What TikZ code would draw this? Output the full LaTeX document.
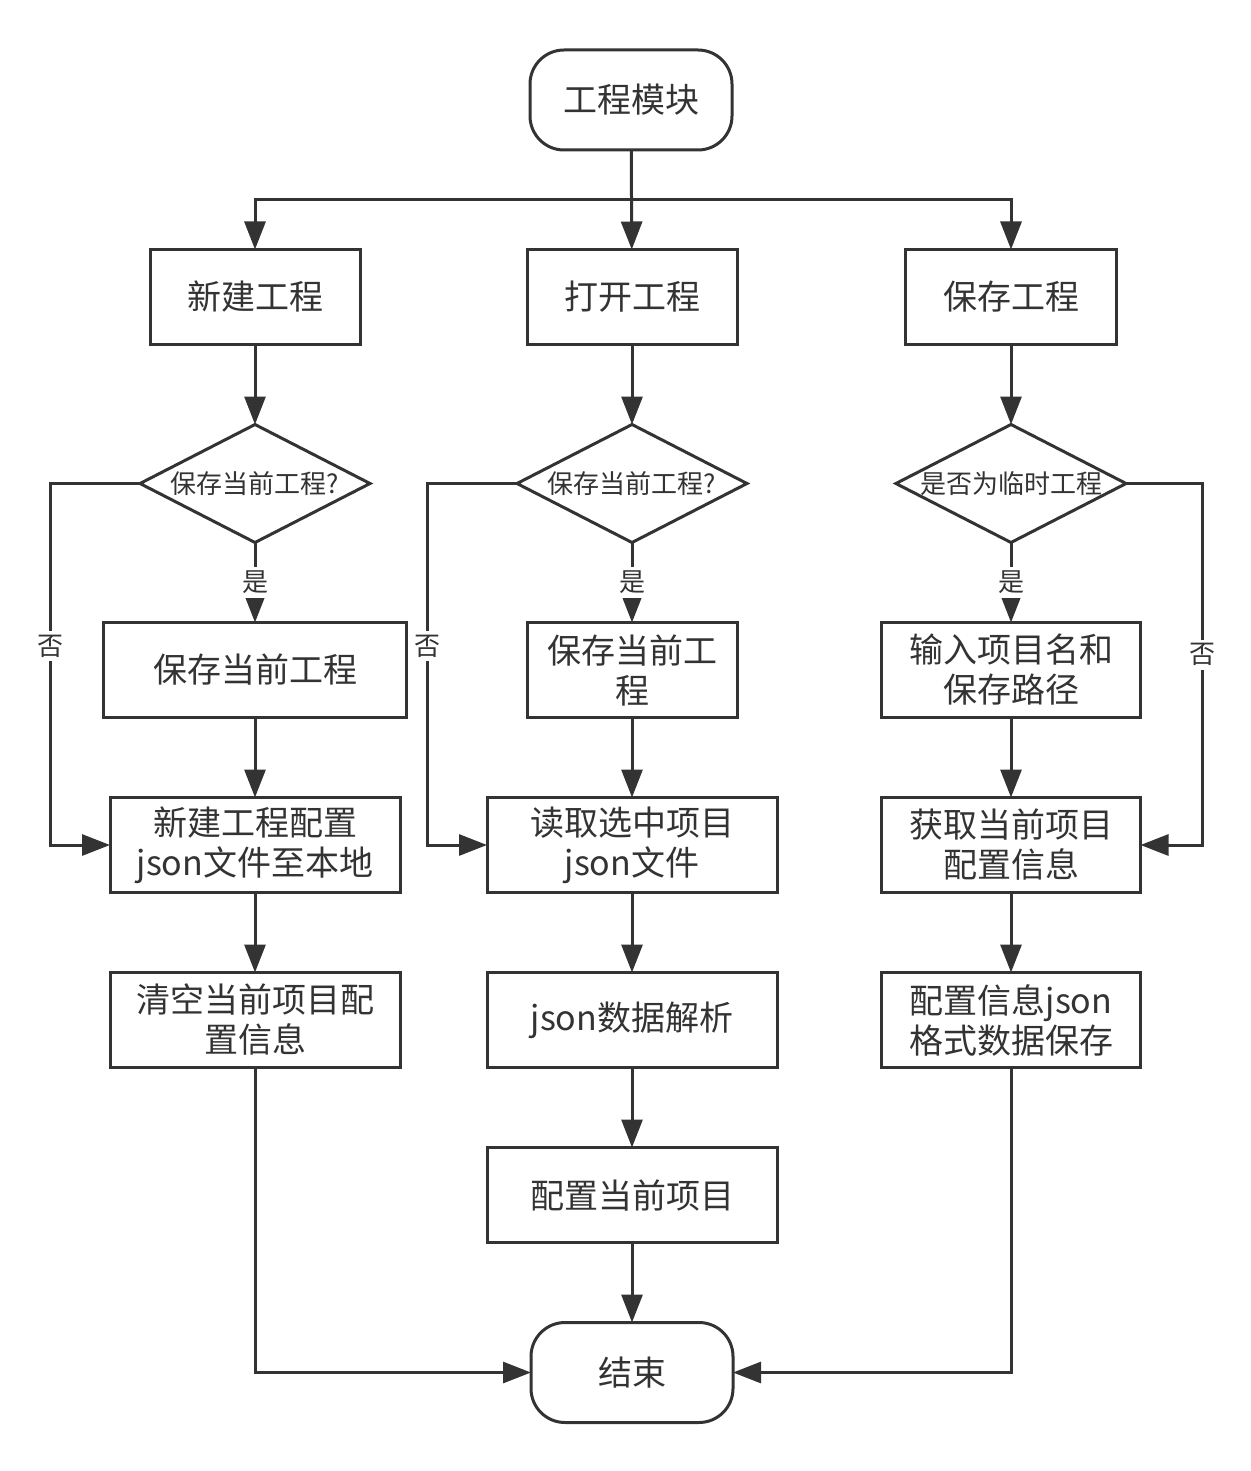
\documentclass[tikz,border=0pt]{standalone}
\usepackage{fontspec}
\setmainfont{Noto Sans CJK SC}
\usepackage{xcolor}
\usetikzlibrary{positioning,arrows.meta,shapes.geometric}
\definecolor{ink}{HTML}{333333}

\begin{document}
\begin{tikzpicture}[x=0.5pt,y=-0.5pt,
   box/.style={draw=ink,line width=1.5pt,fill=white,text=ink,align=center,minimum height=47.5pt,inner sep=2pt,outer sep=0pt,font=\fontsize{17}{20}\selectfont},
   term/.style={box,rounded corners=17pt,minimum width=101pt,minimum height=50pt},
   dec/.style={diamond,aspect=2,draw=ink,line width=1.5pt,fill=white,text=ink,inner sep=0pt,outer sep=0pt,minimum width=115pt,minimum height=59pt,font=\fontsize{13}{15}\selectfont},
   lbl/.style={fill=white,text=ink,inner sep=2pt,font=\fontsize{13}{15}\selectfont},
   flow/.style={draw=ink,line width=1.5pt,-{Triangle[length=14pt,width=10.5pt]}}]
  \useasboundingbox (0,0) rectangle (1250,1471);

  % top
  \node[term] (start) at (631,100) {工程模块};
  \coordinate (split) at (631,200);
  \node[box,minimum width=105pt] (new) at (255,297) {新建工程};
  \node[box,minimum width=105pt] (open) at (632,297) {打开工程};
  \node[box,minimum width=105.5pt] (save) at (1011,297) {保存工程};

  % new project
  \node[dec,below=40pt of new] (ask1) {保存当前工程?};
  \node[box,minimum width=151.5pt,below=40pt of ask1] (keep1) {保存当前工程};
  \node[box,minimum width=145pt,below=40pt of keep1] (write1) {新建工程配置\\json文件至本地};
  \node[box,minimum width=145pt,below=40pt of write1] (clear1) {清空当前项目配\\置信息};

  % open project
  \node[dec,below=40pt of open] (ask2) {保存当前工程?};
  \node[box,minimum width=105pt,below=40pt of ask2] (keep2) {保存当前工\\程};
  \node[box,minimum width=145pt,below=40pt of keep2] (read2) {读取选中项目\\json文件};
  \node[box,minimum width=145pt,below=40pt of read2] (parse2) {json数据解析};
  \node[box,minimum width=145pt,below=40pt of parse2] (apply2) {配置当前项目};
  \node[term,below=40pt of apply2] (stop) {结束};

  % save project
  \node[dec,below=40pt of save] (ask3) {是否为临时工程};
  \node[box,minimum width=129.5pt,below=40pt of ask3] (path3) {输入项目名和\\保存路径};
  \node[box,minimum width=129.5pt,below=40pt of path3] (info3) {获取当前项目\\配置信息};
  \node[box,minimum width=129.5pt,below=40pt of info3] (store3) {配置信息json\\格式数据保存};

  % connectors
  \draw[flow] (start) -- (open);
  \draw[flow] (split) -| (new);
  \draw[flow] (split) -| (save);

  \draw[flow] (new) -- (ask1);
  \draw[flow] (ask1) -- node[lbl]{是} (keep1);
  \draw[flow] (ask1.west) -- ([xshift=-45pt]ask1.west) |- node[lbl,pos=0.225]{否} (write1.west);
  \draw[flow] (keep1) -- (write1);
  \draw[flow] (write1) -- (clear1);
  \draw[flow] (clear1) |- (stop);

  \draw[flow] (open) -- (ask2);
  \draw[flow] (ask2) -- node[lbl]{是} (keep2);
  \draw[flow] (ask2.west) -- ([xshift=-45pt]ask2.west) |- node[lbl,pos=0.225]{否} (read2.west);
  \draw[flow] (keep2) -- (read2);
  \draw[flow] (read2) -- (parse2);
  \draw[flow] (parse2) -- (apply2);
  \draw[flow] (apply2) -- (stop);

  \draw[flow] (save) -- (ask3);
  \draw[flow] (ask3) -- node[lbl]{是} (path3);
  \draw[flow] (ask3.east) -- ([xshift=38pt]ask3.east) |- node[lbl,pos=0.237]{否} (info3.east);
  \draw[flow] (path3) -- (info3);
  \draw[flow] (info3) -- (store3);
  \draw[flow] (store3) |- (stop);
\end{tikzpicture}
\end{document}
